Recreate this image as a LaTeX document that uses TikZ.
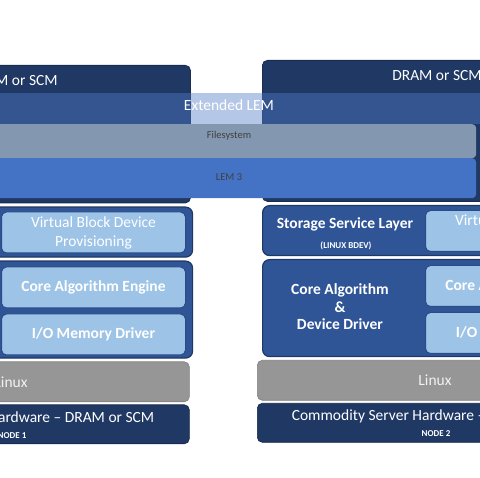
\documentclass[tikz,border=0pt]{standalone}
\usepackage{fontspec}
\setmainfont{Carlito}
\usetikzlibrary{positioning}

\definecolor{navy}{HTML}{1F3864}
\definecolor{midblue}{HTML}{2F5597}
\definecolor{lightblue}{HTML}{9DC3E6}
\definecolor{lemblue}{HTML}{4472C4}
\definecolor{fsgray}{HTML}{8497B0}
\definecolor{extblue}{RGB}{81,125,200}
\definecolor{linuxgray}{HTML}{969696}

\newcommand\capfont{\fontsize{15.5}{19}\selectfont}
\newcommand\bandfont{\fontsize{10.5}{12}\selectfont}
\newcommand\notefont{\fontsize{9}{10}\selectfont\bfseries}

\begin{document}
\begin{tikzpicture}[x=1pt,y=-1pt,
	box/.style={rectangle,inner sep=0pt,anchor=north west,rounded corners=5pt},
	dram box/.style={box,fill=navy,draw=navy!80!black,line width=0.8pt,minimum width=352},
	band/.style={box,rounded corners=4pt},
	outer box/.style={box,fill=midblue,draw=navy,line width=1.2pt,minimum width=354,rounded corners=7pt},
	inner box/.style={box,fill=lightblue,draw=midblue!70!navy,line width=1pt,minimum width=184,minimum height=41,text=white,align=center,font=\capfont},
	linux box/.style={box,fill=linuxgray,draw=linuxgray!85!black,line width=0.6pt,minimum width=356,minimum height=40},
	hw box/.style={box,fill=navy,draw=navy!70!black,line width=0.6pt,minimum width=356,minimum height=39},
	label/.style={text=white,inner sep=0pt,anchor=base,font=\capfont}
]
	\useasboundingbox (0,0) rectangle (480,478);
	\clip (0,0) rectangle (480,478);

	% memory boxes, one per node
	\foreach \dx/\dy/\dt/\n in {-424/1.5/3.5/1, 0/0/0/2} {
		\begin{scope}[shift={(\dx,\dy)}]
			\node[dram box,minimum height={141-\dt}] (dram\n) at (262,60+\dt) {};
			\node[label] (dramlbl\n) at (437,81+\dt) {DRAM or SCM};
		\end{scope}
	}

	% shared LEM layers
	\node[band,fill=extblue,fill opacity=0.43,minimum width=780,minimum height=31] (ext) at (-160,93) {};
	\node[label] (extlbl) at (229,111) {Extended LEM};
	\node[band,fill=fsgray,minimum width=494,minimum height=34] (fs) at (-18,124) {};
	\node[label,font=\bandfont,text=black!75] (fslbl) at (229,139) {Filesystem};
	\node[band,fill=lemblue,minimum width=494,minimum height=40] (lem) at (-18,158) {};
	\node[label,font=\bandfont,text=black!75] (lemlbl) at (229,181) {LEM 3};

	% node stacks
	\foreach \dx/\dy/\n in {-424/1.5/1, 0/0/2} {
		\begin{scope}[shift={(\dx,\dy)}]
			\node[outer box,minimum height=50] (ssl\n) at (262,205) {};
			\node[label,font=\capfont\bfseries] (ssllbl\n) at (345,229) {Storage Service Layer};
			\node[label,font=\notefont] (bdev\n) at (346,249) {(LINUX BDEV)};
			\node[inner box] (vbd\n) at (425,210) {Virtual Block Device\\Provisioning};

			\node[outer box,minimum height=97] (core\n) at (262,259) {};
			\node[label,anchor=center,align=center,font={\fontsize{15.5}{17.5}\selectfont\bfseries}] (corelbl\n) at (340,307) {Core Algorithm\\\&\\Device Driver};
			\node[inner box,font=\capfont\bfseries] (engine\n) at (425,265) {Core Algorithm Engine};
			\node[inner box,font=\capfont\bfseries] (iomem\n) at (425,312) {I/O Memory Driver};

			\node[linux box] (linux\n) at (257,360) {};
			\node[label,text=white!90!gray] (linuxlbl\n) at (435,386) {Linux};
			\node[hw box] (hw\n) at (257,403) {};
			\node[label] (hwlbl\n) at (435,421) {Commodity Server Hardware -- DRAM or SCM};
			\node[label,font=\notefont] (nodelbl\n) at (436,437) {NODE \n};
		\end{scope}
	}
\end{tikzpicture}
\end{document}
